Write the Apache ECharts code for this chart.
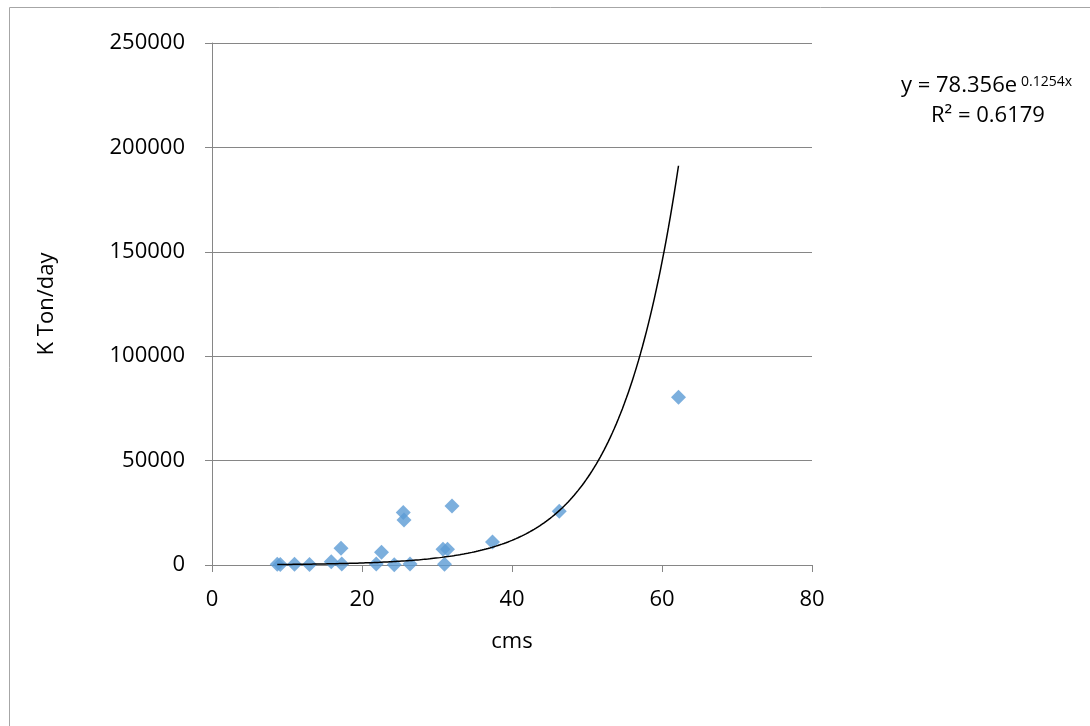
<!DOCTYPE html>
<html>
<head>
<meta charset="utf-8">
<title>K Ton/day vs cms</title>
<script src="https://cdn.jsdelivr.net/npm/echarts@6/dist/echarts.min.js"></script>
<style>
  html, body { margin: 0; padding: 0; background: #fff; }
  #chart { width: 1090px; height: 726px; }
</style>
</head>
<body>
<div id="chart"></div>
<script>
// Observed flow (cms) and load (K Ton/day)
const flowCms = [8.7, 9.1, 11.0, 13.0, 15.9, 17.2, 17.3, 21.9, 22.6, 24.3, 25.5, 25.6, 26.4, 30.8, 31.4, 31.0, 32.0, 37.4, 46.3, 62.2];
const loadKTon = [300, 200, 300, 200, 1600, 8000, 500, 500, 6100, 100, 25200, 21500, 500, 7500, 7500, 300, 28300, 11000, 25700, 80300];

// Exponential trendline y = a * e^(b x)
const trendA = 78.356;
const trendB = 0.1254;
const trendR2 = 0.6179;

const xTicks = [0, 20, 40, 60, 80];
const yTicks = [0, 50000, 100000, 150000, 200000, 250000];

const points = flowCms.map((x, i) => [x, loadKTon[i]]);
const xMinData = Math.min(...flowCms);
const xMaxData = Math.max(...flowCms);
const trend = [];
const steps = 200;
for (let i = 0; i <= steps; i++) {
  const x = xMinData + (xMaxData - xMinData) * i / steps;
  trend.push([x, trendA * Math.exp(trendB * x)]);
}

const FONT = '"Open Sans", "Liberation Sans", sans-serif';
const chart = echarts.init(document.getElementById('chart'), null, { renderer: 'canvas' });
chart.setOption({
  animation: false,
  backgroundColor: '#ffffff',
  grid: { left: 212, right: 278, top: 43, bottom: 161, containLabel: false },
  xAxis: {
    type: 'value',
    min: xTicks[0],
    max: xTicks[xTicks.length - 1],
    interval: 20,
    name: 'cms',
    nameLocation: 'middle',
    nameGap: 66,
    nameTextStyle: { fontFamily: FONT, fontSize: 22, color: '#000' },
    axisLine: { show: true, lineStyle: { color: '#868686', width: 1 } },
    axisTick: { show: true, length: 7, lineStyle: { color: '#868686' } },
    axisLabel: { fontFamily: FONT, fontSize: 22, color: '#000', margin: 24 },
    splitLine: { show: false }
  },
  yAxis: {
    type: 'value',
    min: yTicks[0],
    max: yTicks[yTicks.length - 1],
    interval: 50000,
    name: 'K Ton/day',
    nameLocation: 'middle',
    nameRotate: 90,
    nameGap: 154,
    nameTextStyle: { fontFamily: FONT, fontSize: 22, color: '#000' },
    axisLine: { show: true, lineStyle: { color: '#868686', width: 1 } },
    axisTick: { show: true, length: 7, lineStyle: { color: '#868686' } },
    axisLabel: { fontFamily: FONT, fontSize: 22, color: '#000', margin: 27, formatter: v => String(v) },
    splitLine: { show: true, lineStyle: { color: '#868686', width: 1 } }
  },
  series: [
    {
      type: 'scatter',
      data: points,
      symbol: 'diamond',
      symbolSize: 15,
      itemStyle: { color: '#5B9BD5' },
      z: 3
    },
    {
      type: 'line',
      data: trend,
      showSymbol: false,
      smooth: false,
      lineStyle: { color: '#000000', width: 1.5 },
      z: 4
    }
  ],
  graphic: [
    {
      type: 'rect',
      shape: { x: 9.5, y: 7.5, width: 1100, height: 740 },
      style: { fill: null, stroke: '#a6a6a6', lineWidth: 1 },
      silent: true
    },
    {
      type: 'text',
      left: 901,
      top: 75,
      style: {
        text: 'y = ' + trendA + 'e',
        fontFamily: FONT,
        fontSize: 22,
        fill: '#000'
      }
    },
    {
      type: 'text',
      left: 1021,
      top: 75,
      style: {
        text: trendB + 'x',
        fontFamily: FONT,
        fontSize: 14,
        fill: '#000'
      }
    },
    {
      type: 'text',
      left: 931,
      top: 105,
      style: {
        text: 'R² = ' + trendR2,
        fontFamily: FONT,
        fontSize: 22,
        fill: '#000'
      }
    }
  ]
});
</script>
</body>
</html>
